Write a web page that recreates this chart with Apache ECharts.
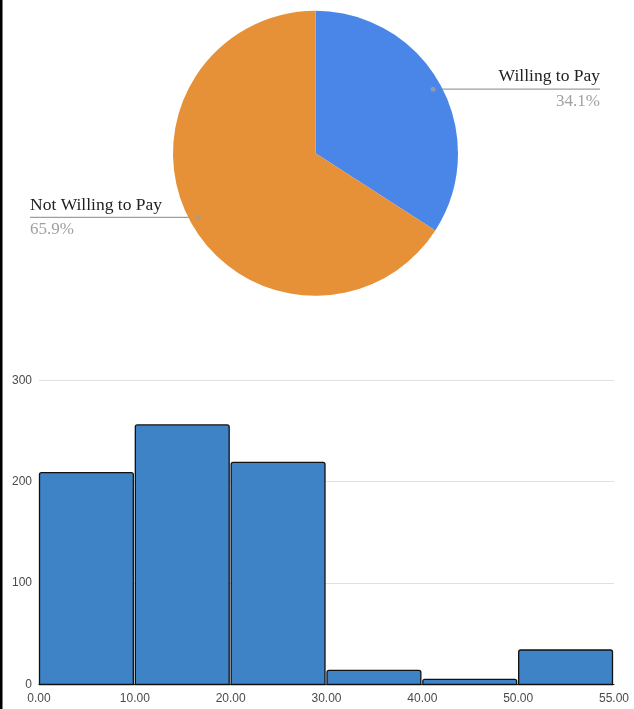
<!DOCTYPE html>
<html>
<head>
<meta charset="utf-8">
<script src="https://cdn.jsdelivr.net/npm/echarts@6/dist/echarts.min.js"></script>
<style>
  html, body { margin: 0; padding: 0; background: #fff; }
  #chart { width: 634px; height: 709px; }
</style>
</head>
<body>
<div id="chart"></div>
<script>
// Pie: share of respondents by willingness to pay
const categories = ['Willing to Pay', 'Not Willing to Pay'];
const shares = [34.1, 65.9];

// Histogram: counts per price bin
const binCounts = [209, 256, 219, 14, 5, 34];
const binTickLabels = ['0.00', '10.00', '20.00', '30.00', '40.00', '50.00', '55.00'];

const pieColors = ['#4a86e8', '#e69138'];
const pieCenter = [315.5, 153.3];
const pieRadius = 142.5;
const dotRatio = 0.94;          // label dots sit slightly inside the rim
const labelEdgeLeft = 30;
const labelEdgeRight = 34;
const W = 634;

const total = shares.reduce((s, v) => s + v, 0);
// middle of each slice, in the same units as the polar angle axis
let acc = 0;
const sliceMids = shares.map(v => { const m = acc + v / 2; acc += v; return m; });

const chart = echarts.init(document.getElementById('chart'), null, { renderer: 'canvas' });

chart.setOption({
  animation: false,
  backgroundColor: '#fff',
  graphic: [{
    type: 'rect',
    left: 0, top: 0,
    shape: { width: 2.5, height: 709 },
    style: { fill: '#000' },
    silent: true
  }],
  polar: { center: pieCenter, radius: pieRadius },
  angleAxis: {
    type: 'value', min: 0, max: total, startAngle: 90, clockwise: true, show: false
  },
  radiusAxis: { type: 'value', min: 0, max: 1, show: false },
  grid: { left: 39, right: 20, top: 380.3, bottom: 24.5 },
  xAxis: {
    type: 'value', min: 0, max: binTickLabels.length - 1, interval: 1,
    axisLine: { show: true, lineStyle: { color: '#222', width: 1 } },
    axisTick: { show: false },
    splitLine: { show: false },
    axisLabel: {
      showMinLabel: true, showMaxLabel: true,
      formatter: v => binTickLabels[v],
      color: '#4a4a4a', fontSize: 12, fontFamily: 'Liberation Sans', margin: 8
    }
  },
  yAxis: {
    type: 'value', min: 0, max: 300, interval: 100,
    axisLine: { show: false },
    axisTick: { show: false },
    splitLine: { lineStyle: { color: '#e0e0e0', width: 1 } },
    axisLabel: { color: '#4a4a4a', fontSize: 12, fontFamily: 'Liberation Sans', margin: 7 }
  },
  series: [
    {
      type: 'pie',
      center: pieCenter,
      radius: pieRadius,
      startAngle: 90,
      clockwise: true,
      silent: true,
      data: categories.map((name, i) => ({ name, value: shares[i], itemStyle: { color: pieColors[i] } })),
      label: {
        show: true,
        formatter: p => '{name|' + p.name + '}\n{pct|' + p.value.toFixed(1) + '%}',
        rich: {
          name: { fontFamily: 'Liberation Serif', fontSize: 17.5, color: '#222', lineHeight: 24 },
          pct: { fontFamily: 'Liberation Serif', fontSize: 17, color: '#a0a0a0', lineHeight: 25 }
        }
      },
      labelLine: { show: true, length: 10, length2: 10, lineStyle: { color: '#9e9e9e', width: 1.3 } },
      labelLayout: function (params) {
        const p0 = params.labelLinePoints[0];
        const dx = p0[0] - pieCenter[0], dy = p0[1] - pieCenter[1];
        const len = Math.sqrt(dx * dx + dy * dy) || 1;
        const dot = [pieCenter[0] + dx / len * pieRadius * dotRatio,
                     pieCenter[1] + dy / len * pieRadius * dotRatio];
        const isLeft = dx < 0;
        const endX = isLeft ? labelEdgeLeft : W - labelEdgeRight;
        return {
          x: endX, y: dot[1],
          align: isLeft ? 'left' : 'right',
          verticalAlign: 'middle',
          labelLinePoints: [dot, dot, [endX, dot[1]]]
        };
      }
    },
    {
      type: 'scatter',
      coordinateSystem: 'polar',
      silent: true,
      symbolSize: 5,
      itemStyle: { color: '#9e9e9e' },
      z: 10,
      data: sliceMids.map(m => [dotRatio, m])
    },
    {
      type: 'custom',
      silent: true,
      data: binCounts.map((v, i) => [i, v]),
      encode: { x: 0, y: 1 },
      renderItem: function (params, api) {
        const i = api.value(0), v = api.value(1);
        const a = api.coord([i, v]);
        const b = api.coord([i + 1, 0]);
        return {
          type: 'rect',
          shape: { x: a[0] + 0.5, y: a[1], width: b[0] - a[0] - 2, height: b[1] - a[1], r: [2, 2, 0, 0] },
          style: { fill: '#3d83c6', stroke: '#111', lineWidth: 1.3 }
        };
      }
    }
  ]
});
</script>
</body>
</html>
